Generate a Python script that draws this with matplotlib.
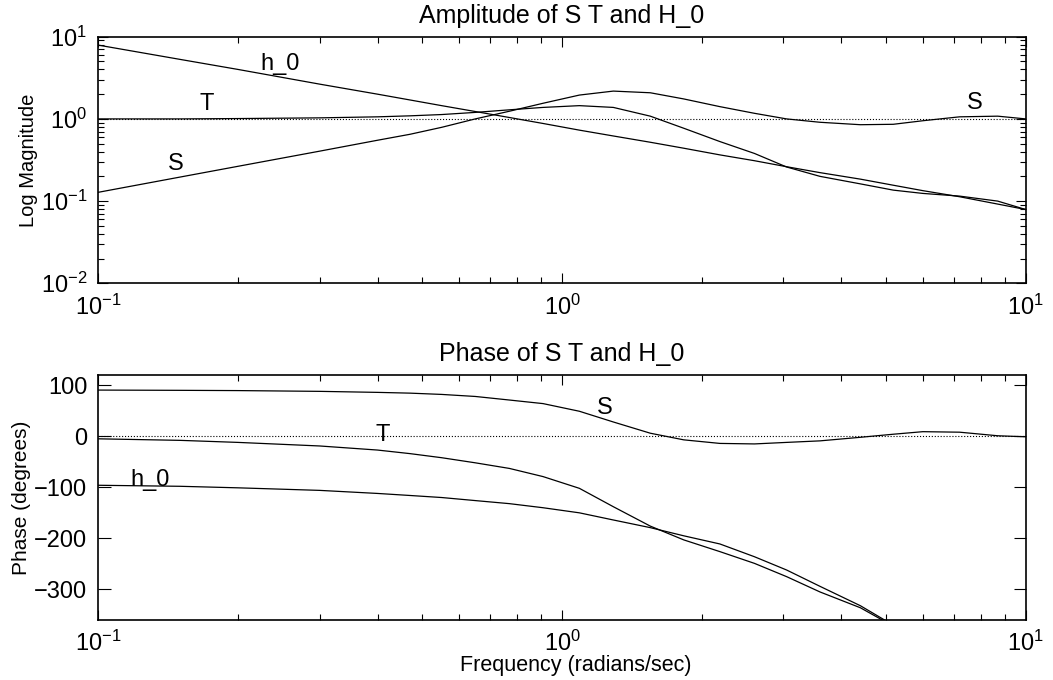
import matplotlib
matplotlib.use("Agg")
import matplotlib.pyplot as plt
from matplotlib.ticker import LogLocator, NullFormatter

plt.rcParams['font.family'] = ['Liberation Sans', 'DejaVu Sans']
plt.rcParams['mathtext.default'] = 'regular'

# frequencies (rad/sec)
freq = [0.1, 0.15, 0.2, 0.3, 0.4, 0.47, 0.55, 0.65, 0.77, 0.91, 1.09, 1.29,
        1.55, 1.83, 2.19, 2.6, 3.05, 3.6, 4.4, 5.18, 6.0, 7.2, 8.7, 10.0]

# magnitudes
s_mag = [0.128, 0.196, 0.265, 0.405, 0.55, 0.65, 0.79, 1.0, 1.24, 1.55, 1.95, 2.18,
         2.08, 1.75, 1.41, 1.17, 1.0, 0.91, 0.85, 0.86, 0.95, 1.06, 1.08, 1.0]
t_mag = [1.0, 1.0, 1.01, 1.03, 1.06, 1.09, 1.13, 1.2, 1.29, 1.38, 1.45, 1.38,
         1.08, 0.77, 0.53, 0.38, 0.26, 0.2, 0.162, 0.136, 0.124, 0.115, 0.1, 0.079]
h0_mag = [7.9, 5.3, 4.0, 2.65, 2.0, 1.7, 1.45, 1.23, 1.04, 0.88, 0.73, 0.62,
          0.52, 0.44, 0.365, 0.31, 0.262, 0.222, 0.185, 0.156, 0.134, 0.113, 0.092, 0.079]

# phases (degrees)
s_ph = [90.5, 90, 89.5, 88, 86, 84.5, 82, 78, 71, 64, 49, 28,
        6, -7, -14, -15, -12, -9, -2, 4, 9, 8, 1, -1]
t_ph = [-5, -8, -12, -19, -27, -34, -42, -52, -63, -79, -102, -138,
        -176, -203, -226, -249, -275, -305, -336, -372, -410, -465, -530, -600]
h0_ph = [-96, -98, -101, -106, -112, -116, -120, -126, -132, -140, -150, -164,
         -179, -195, -211, -236, -262, -294, -332, -370, -405, -460, -525, -590]

ref_line_x = [0.1, 10.0]

fig = plt.figure(figsize=(10.53, 6.8), dpi=100)
ax1 = fig.add_axes([0.0934, 0.5834, 0.8807, 0.3626])
ax2 = fig.add_axes([0.0934, 0.0882, 0.8807, 0.3603])

lw = 0.9
ax1.loglog(freq, s_mag, 'k-', lw=lw)
ax1.loglog(freq, t_mag, 'k-', lw=lw)
ax1.loglog(freq, h0_mag, 'k-', lw=lw)
ax1.loglog(ref_line_x, [1, 1], 'k:', lw=0.8)
ax1.set_xlim(0.1, 10)
ax1.set_ylim(1e-2, 1e1)
ax1.set_ylabel('Log Magnitude', fontsize=14.5, labelpad=2)
ax1.set_title('Amplitude of S T and H_0', fontsize=18, pad=10)
ax1.text(0.2465, 4.65, 'h_0', fontsize=17, ha='center', va='center')
ax1.text(0.1715, 1.52, 'T', fontsize=17, ha='center', va='center')
ax1.text(0.147, 0.283, 'S', fontsize=17, ha='center', va='center')
ax1.text(7.78, 1.56, 'S', fontsize=17, ha='center', va='center')

ax2.semilogx(freq, s_ph, 'k-', lw=lw)
ax2.semilogx(freq, t_ph, 'k-', lw=lw)
ax2.semilogx(freq, h0_ph, 'k-', lw=lw)
ax2.semilogx(ref_line_x, [0, 0], 'k:', lw=0.8)
ax2.set_xlim(0.1, 10)
ax2.set_ylim(-360, 120)
ax2.set_yticks([-300, -200, -100, 0, 100])
ax2.set_ylabel('Phase (degrees)', fontsize=15, labelpad=2)
ax2.set_xlabel('Frequency (radians/sec)', fontsize=15.5, labelpad=0)
ax2.xaxis.set_label_coords(0.515, -0.142)
ax2.set_title('Phase of S T and H_0', fontsize=18, pad=10)
ax2.text(1.237, 55, 'S', fontsize=17, ha='center', va='center')
ax2.text(0.411, 3, 'T', fontsize=17, ha='center', va='center')
ax2.text(0.129, -85, 'h_0', fontsize=17, ha='center', va='center')

for ax in (ax1, ax2):
    ax.xaxis.set_major_locator(LogLocator(base=10, numticks=5))
    ax.xaxis.set_minor_locator(LogLocator(base=10, subs=range(2, 10), numticks=12))
    ax.xaxis.set_minor_formatter(NullFormatter())
    ax.tick_params(which='both', direction='in', top=True, right=True,
                   labelsize=17, width=0.8)
    ax.tick_params(which='major', length=7, pad=8)
    ax.tick_params(which='minor', length=4)
    for sp in ax.spines.values():
        sp.set_linewidth(1.2)

ax1.yaxis.set_minor_locator(LogLocator(base=10, subs=range(2, 10), numticks=12))
ax1.yaxis.set_minor_formatter(NullFormatter())
ax2.tick_params(axis='y', which='major', length=9)

fig.savefig('out.png', dpi=100)
